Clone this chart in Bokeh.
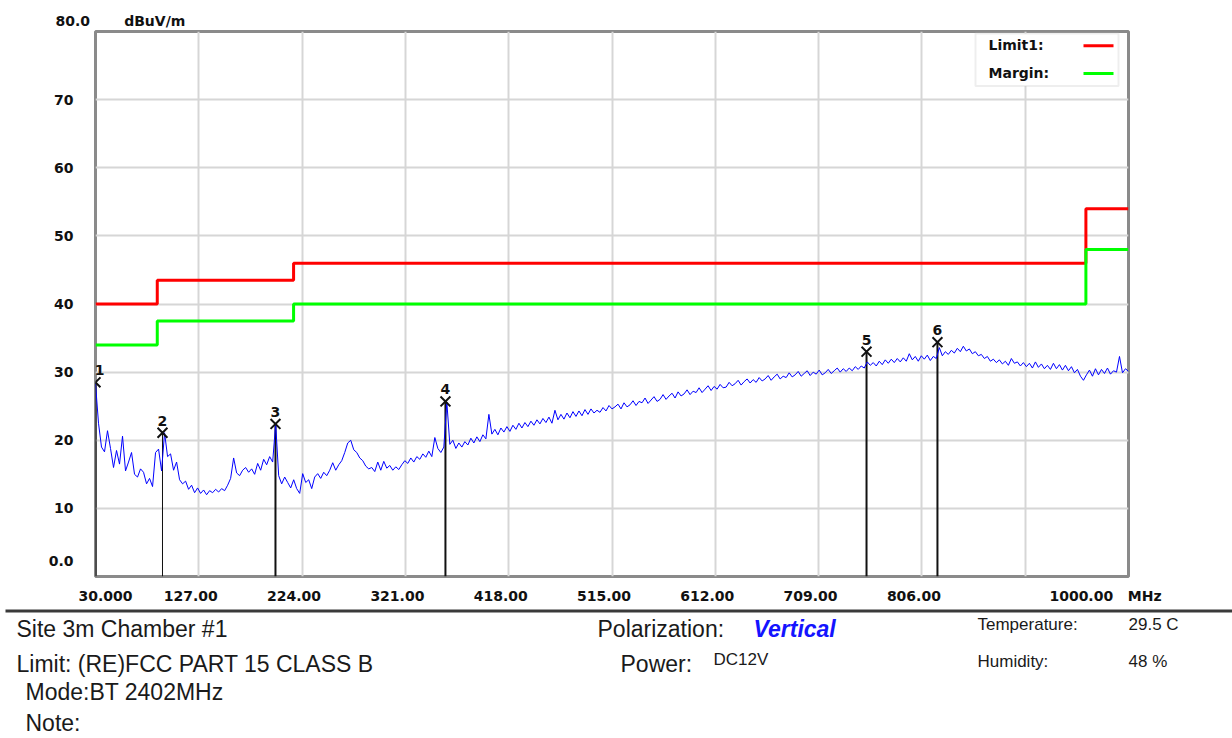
import numpy as np
from bokeh.plotting import figure
from bokeh.models import FixedTicker, Label, LabelSet, BoxAnnotation, ColumnDataSource, Range1d
from bokeh.core.properties import value
from bokeh.embed import file_html
from bokeh.resources import INLINE

# ---------------- data ----------------
F_START, F_STOP = 30.0, 1000.0
Y_MIN, Y_MAX = 0.0, 80.0

# spectrum sweep (dBuV/m), evenly spaced in frequency
trace_levels = [
    28.3, 22.5, 19.0, 18.3, 21.4, 18.8, 16.0, 18.5, 16.5, 20.6,
    15.5, 16.8, 18.2, 15.0, 14.6, 15.8, 15.3, 13.6, 14.4, 13.2,
    18.2, 18.7, 15.5, 21.1, 17.6, 18.0, 15.6, 16.8, 14.2, 13.6,
    14.0, 12.8, 13.4, 12.3, 13.0, 12.2, 12.7, 12.0, 12.6, 12.3,
    12.8, 12.4, 12.9, 12.6, 13.4, 14.4, 17.4, 15.2, 14.8, 15.6,
    16.0, 15.3, 15.8, 15.0, 16.6, 15.6, 17.2, 16.4, 17.6, 16.8,
    22.4, 14.8, 13.6, 14.6, 13.8, 13.0, 14.2, 12.9, 12.2, 15.1,
    13.8, 14.2, 12.9, 14.6, 15.1, 14.4, 15.3, 14.8, 15.6, 16.7,
    15.6, 16.4, 17.0, 18.2, 19.6, 20.0, 18.6, 18.2, 17.4, 17.0,
    16.2, 15.8, 16.0, 15.4, 16.8, 15.6, 16.9, 15.9, 16.3, 15.6,
    16.1, 15.7, 16.4, 17.0, 16.6, 17.4, 16.8, 17.6, 17.2, 18.0,
    17.5, 18.4, 17.6, 20.4, 18.8, 18.2, 19.0, 25.6, 19.4, 20.0,
    18.8, 19.6, 19.0, 19.8, 19.3, 20.3, 19.6, 20.5, 19.8, 20.8,
    20.2, 23.8, 20.9, 21.6, 20.8, 21.8, 21.2, 22.0, 21.3, 22.2,
    21.6, 22.5, 21.8, 22.6, 22.0, 22.8, 22.2, 23.0, 22.4, 23.2,
    22.6, 23.4, 22.5, 24.4, 23.0, 23.8, 23.1, 24.0, 23.3, 24.2,
    23.5, 24.3, 23.6, 24.5, 23.8, 24.6, 24.0, 24.4, 24.1, 24.8,
    24.3, 25.1, 24.6, 24.9, 25.3, 24.6, 25.5, 24.9, 25.2, 25.8,
    25.1, 25.7, 25.5, 26.2, 25.4, 25.9, 26.4, 25.7, 26.0, 26.7,
    26.0, 26.5, 26.9, 26.2, 27.1, 26.5, 26.8, 27.4, 26.7, 27.2,
    27.0, 27.7, 27.0, 27.5, 28.0, 27.3, 27.9, 27.5, 28.2, 27.7,
    27.8, 28.5, 28.0, 28.3, 28.8, 28.1, 28.6, 29.0, 28.4, 28.9,
    28.5, 29.2, 28.7, 29.0, 29.5, 28.8, 29.3, 29.7, 29.0, 29.4,
    29.2, 29.9, 29.3, 29.6, 30.1, 29.4, 29.8, 30.2, 29.5, 30.0,
    29.7, 30.3, 29.6, 29.9, 30.4, 29.8, 30.2, 30.6, 30.0, 30.5,
    30.1, 30.6, 30.2, 30.8, 30.4, 30.9, 30.6, 31.5, 31.0, 31.4,
    30.9, 31.6, 31.1, 31.8, 31.3, 31.9, 31.4, 32.0, 31.5, 32.1,
    31.6, 32.7, 31.8, 32.3, 31.6, 32.4, 31.9, 32.5, 31.7, 32.3,
    32.0, 33.6, 32.4, 33.0, 32.6, 33.2, 32.8, 33.5, 33.0, 33.8,
    33.1, 33.4, 32.7, 33.0, 32.4, 32.6, 32.0, 32.3, 31.6, 31.9,
    31.4, 31.8, 31.2, 31.6, 31.0, 32.0, 31.3, 31.5, 30.9, 31.4,
    30.8, 31.3, 30.6, 31.5, 30.7, 31.2, 30.5, 31.0, 30.4, 31.3,
    30.5, 31.1, 30.3, 31.0, 30.2, 30.8, 29.9, 30.4, 29.4, 28.8,
    29.6, 30.3, 29.4, 30.5, 29.6, 30.4, 29.8, 30.6, 29.7, 30.2,
    30.0, 32.3, 29.9, 30.5, 30.1,
]
trace_freq = np.linspace(F_START, F_STOP, len(trace_levels))

limit_freq = [30, 88, 216, 960, 1000]
limit_level = [40, 43.5, 46, 54, 54]
margin_level = [34, 37.5, 40, 48, 48]

marker_ids = ["1", "2", "3", "4", "5", "6"]
marker_freq = [30.0, 92.9, 199.0, 358.6, 754.0, 820.6]
marker_level = [28.5, 21.1, 22.4, 25.7, 33.0, 34.4]

x_tick_values = [30, 127, 224, 321, 418, 515, 612, 709, 806, 1000]
x_tick_labels = ["30.000", "127.00", "224.00", "321.00", "418.00",
                 "515.00", "612.00", "709.00", "806.00", "1000.00\u00a0\u00a0\u00a0MHz"]
x_grid_values = [127, 224, 321, 418, 515, 612, 709, 806, 903]
y_tick_values = [0, 10, 20, 30, 40, 50, 60, 70]
y_tick_labels = ["0.0", "10", "20", "30", "40", "50", "60", "70"]
y_grid_values = [10, 20, 30, 40, 50, 60, 70]
y_unit_title = "80.0" + "\u00a0" * 7 + "dBuV/m"

legend_labels = ["Limit1:", "Margin:"]

info_big = ["Site 3m Chamber #1", "Limit: (RE)FCC PART 15 CLASS B", "Mode:BT 2402MHz",
            "Note:", "Polarization:", "Power:"]
info_small = ["DC12V", "Temperature:", "29.5 C", "Humidity:", "48 %"]
info_emph = ["Vertical"]

# ---------------- layout (page pixels) ----------------
W = 1232
H_TOP = 606
H_BOT = 738 - H_TOP
FL, FT, FR, FB = 95, 31, 1128, 582   # frame edges in page pixels


def fx(px):
    return F_START + (px - FL) * (F_STOP - F_START) / (FR - FL)


def fy(py):
    return Y_MIN + (FB - py) * (Y_MAX - Y_MIN) / (FB - FT)


MHZ_PER_PX = (F_STOP - F_START) / (FR - FL)
DB_PER_PX = (Y_MAX - Y_MIN) / (FB - FT)

p = figure(width=W, height=H_TOP, x_range=Range1d(F_START, F_STOP), y_range=Range1d(Y_MIN, Y_MAX),
           output_backend="svg", toolbar_location=None,
           min_border_left=FL, min_border_right=W - FR, min_border_top=FT,
           min_border_bottom=H_TOP - FB)
p.background_fill_color = "white"
p.border_fill_color = "white"
p.outline_line_color = "#8a8a8a"
p.outline_line_width = 3

# unit title above the y axis
p.title.text = y_unit_title
p.title.align = "left"
p.title.offset = 55 - FL
p.title.standoff = 6
p.title.text_font = "DejaVu Sans"
p.title.text_font_style = "bold"
p.title.text_font_size = "14px"
p.title.text_color = "#111111"

# grid
p.xgrid.ticker = FixedTicker(ticks=x_grid_values)
p.ygrid.ticker = FixedTicker(ticks=y_grid_values)
for g in (p.xgrid[0], p.ygrid[0]):
    g.grid_line_color = "#d6d6d6"
    g.grid_line_width = 2

# x axis: label positions nudged as in the report
x_label_pos = []
for v in x_tick_values:
    if v == x_tick_values[0]:
        x_label_pos.append(round(fx(105), 3))
    elif v == x_tick_values[-1]:
        x_label_pos.append(round(fx(1105), 3))
    else:
        x_label_pos.append(round(v - 8 * MHZ_PER_PX, 3))
p.xaxis.ticker = FixedTicker(ticks=x_label_pos)
p.xaxis.major_label_overrides = dict(zip(x_label_pos, x_tick_labels))

y_label_pos = []
for v in y_tick_values:
    if v == 0:
        y_label_pos.append(round(v + 16 * DB_PER_PX, 3))
    else:
        y_label_pos.append(v)
p.yaxis.ticker = FixedTicker(ticks=y_label_pos)
p.yaxis.major_label_overrides = dict(zip(y_label_pos, y_tick_labels))

for ax in (p.xaxis[0], p.yaxis[0]):
    ax.axis_line_color = None
    ax.major_tick_line_color = None
    ax.minor_tick_line_color = None
    ax.major_label_text_font = "DejaVu Sans"
    ax.major_label_text_font_style = "bold"
    ax.major_label_text_font_size = "14px"
    ax.major_label_text_color = "#111111"
p.xaxis.major_label_standoff = 5
p.yaxis.major_label_standoff = 16

# limit and margin lines
p.step(limit_freq, limit_level, mode="after", line_color="#ff0000", line_width=3)
p.step(limit_freq, margin_level, mode="after", line_color="#00ff00", line_width=3)

# marker stems
stem_widths = [2, 1, 2, 2, 2, 2]
p.segment(x0=marker_freq, y0=[Y_MIN] * len(marker_freq), x1=marker_freq, y1=marker_level,
          line_color="#111111", line_width=stem_widths)

# spectrum trace
p.line(trace_freq, trace_levels, line_color="#0000ff", line_width=1)

# markers (label of the first one nudged inside the frame so it is not clipped)
label_dx = [4, 0, 0, 0, 0, 0]
msrc = ColumnDataSource(dict(freq=marker_freq, level=marker_level, id=marker_ids, dx=label_dx))
p.scatter("freq", "level", source=msrc, marker="x", size=14, line_color="#111111", line_width=2)
p.add_layout(LabelSet(x="freq", y="level", text="id", source=msrc, x_offset="dx", y_offset=7,
                      text_align="center", text_baseline="bottom", text_font=value("DejaVu Sans"),
                      text_font_style="bold", text_font_size="14px", text_color="#111111"))

bold_small = dict(text_font="DejaVu Sans", text_font_style="bold", text_font_size="14px",
                  text_color="#111111", text_baseline="middle")

# legend box (label left, line right, as in the report)
p.add_layout(BoxAnnotation(left=fx(975), right=fx(1118), top=fy(33), bottom=fy(86),
                           fill_color="white", fill_alpha=1, line_color="#c8c8c8", line_width=2))
p.add_layout(Label(x=fx(988), y=fy(45), text=legend_labels[0], text_align="left", **bold_small))
p.add_layout(Label(x=fx(988), y=fy(73), text=legend_labels[1], text_align="left", **bold_small))
p.add_layout(BoxAnnotation(left=fx(1083), right=fx(1113), top=fy(44), bottom=fy(47),
                           fill_color="#ff0000", fill_alpha=1, line_color=None))
p.add_layout(BoxAnnotation(left=fx(1083), right=fx(1113), top=fy(72), bottom=fy(75),
                           fill_color="#00ff00", fill_alpha=1, line_color=None))

# ---------------- report info panel (separate root, page-pixel coordinates) ----------------
q = figure(width=W, height=H_BOT, x_range=Range1d(0, W), y_range=Range1d(738, H_TOP),
           output_backend="svg", toolbar_location=None, x_axis_type=None, y_axis_type=None,
           min_border_left=0, min_border_right=0, min_border_top=0, min_border_bottom=0)
q.grid.visible = False
q.outline_line_color = None
q.background_fill_color = "white"
q.border_fill_color = "white"

# separator line
q.add_layout(BoxAnnotation(left=5, right=W, top=609, bottom=612,
                           fill_color="#3a3a3a", fill_alpha=1, line_color=None))

big_x = [16, 16, 25, 25, 597, 620]
big_y = [628, 663, 691, 722, 628, 663]
q.text(x=big_x, y=big_y, text=info_big, text_font=value("Liberation Sans"), text_font_size="23px",
       text_color="#1a1a1a", text_baseline="middle", text_align="left")

small_x = [713, 977, 1128, 977, 1128]
small_y = [659, 624, 624, 661, 661]
q.text(x=small_x, y=small_y, text=info_small, text_font=value("Liberation Sans"),
       text_font_size="17px", text_color="#1a1a1a", text_baseline="middle", text_align="left")

q.text(x=[753], y=[628], text=info_emph, text_font=value("Liberation Sans"), text_font_size="23px",
       text_font_style="bold italic", text_color="#1414ff", text_baseline="middle",
       text_align="left")

open("out.html", "w").write(file_html([p, q], INLINE))
